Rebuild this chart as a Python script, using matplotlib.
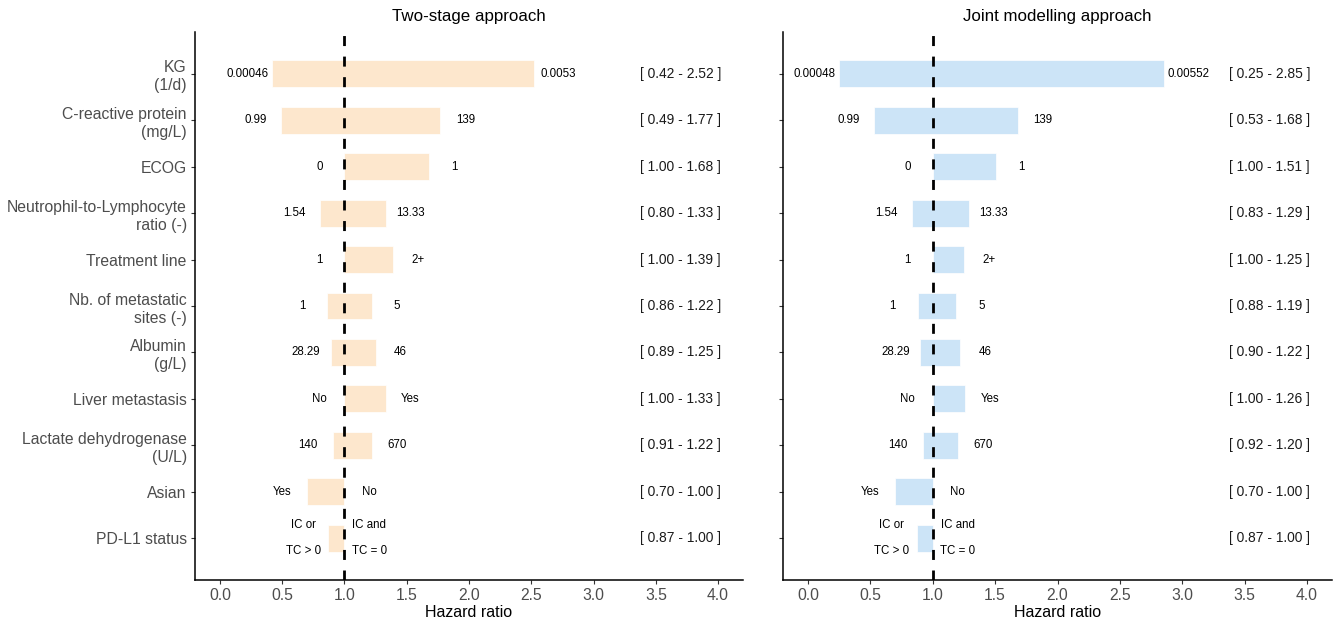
import matplotlib
matplotlib.use('Agg')
import matplotlib.pyplot as plt

plt.rcParams['font.family'] = ['Liberation Sans', 'DejaVu Sans']

# Covariates, top to bottom
covariates = ['KG\n(1/d)', 'C-reactive protein\n(mg/L)', 'ECOG',
              'Neutrophil-to-Lymphocyte\nratio (-)', 'Treatment line',
              'Nb. of metastatic\nsites (-)', 'Albumin\n(g/L)', 'Liver metastasis',
              'Lactate dehydrogenase\n(U/L)', 'Asian', 'PD-L1 status']

# Covariate values at each end of the bar
low_labels_two = ['0.00046', '0.99', '0', '1.54', '1', '1', '28.29', 'No', '140', 'Yes', 'IC or\nTC > 0']
high_labels_two = ['0.0053', '139', '1', '13.33', '2+', '5', '46', 'Yes', '670', 'No', 'IC and\nTC = 0']
low_labels_joint = ['0.00048', '0.99', '0', '1.54', '1', '1', '28.29', 'No', '140', 'Yes', 'IC or\nTC > 0']
high_labels_joint = ['0.00552', '139', '1', '13.33', '2+', '5', '46', 'Yes', '670', 'No', 'IC and\nTC = 0']

# Hazard ratio ranges
hr_low_two = [0.42, 0.49, 1.00, 0.80, 1.00, 0.86, 0.89, 1.00, 0.91, 0.70, 0.87]
hr_high_two = [2.52, 1.77, 1.68, 1.33, 1.39, 1.22, 1.25, 1.33, 1.22, 1.00, 1.00]
hr_low_joint = [0.25, 0.53, 1.00, 0.83, 1.00, 0.88, 0.90, 1.00, 0.92, 0.70, 0.87]
hr_high_joint = [2.85, 1.68, 1.51, 1.29, 1.25, 1.19, 1.22, 1.26, 1.20, 1.00, 1.00]

x_ticks = [0.0, 0.5, 1.0, 1.5, 2.0, 2.5, 3.0, 3.5, 4.0]


def tornado(ax, lows, highs, low_labels, high_labels, color, title, show_labels):
    n = len(lows)
    ypos = [n - i for i in range(n)]
    widths = [h - l for l, h in zip(lows, highs)]
    ax.barh(ypos, widths, left=lows, height=0.58, color=color,
            edgecolor='#ffffff', linewidth=0.5, zorder=1)

    for y, l, h, lt, ht in zip(ypos, lows, highs, low_labels, high_labels):
        ax.text(l - 0.2, y, lt, ha='center', va='center', fontsize=8.3,
                linespacing=2.5, color='black')
        ax.text(h + 0.2, y, ht, ha='center', va='center', fontsize=8.3,
                linespacing=2.5, color='black')
        ax.text(3.7, y, f'[ {l:.2f} - {h:.2f} ]', ha='center', va='center',
                fontsize=9.9, color='#1a1a1a')

    ax.axvline(1.0, color='black', lw=2.0, linestyle=(0, (3.6, 3.8)), zorder=3)

    ax.set_xlim(-0.2, 4.2)
    ax.set_ylim(0.1, n + 0.9)
    ax.set_xticks(x_ticks)
    ax.set_xticklabels([f'{t:.1f}' for t in x_ticks])
    ax.set_yticks(ypos)
    if show_labels:
        ax.set_yticklabels(covariates, linespacing=1.25)
    else:
        ax.set_yticklabels([])

    for side in ['top', 'right']:
        ax.spines[side].set_visible(False)
    for side in ['left', 'bottom']:
        ax.spines[side].set_linewidth(1.1)
        ax.spines[side].set_color('black')

    ax.tick_params(axis='both', length=3, width=0.8, color='#333333',
                   labelcolor='#4D4D4D', labelsize=11.3, pad=3)
    ax.set_xlabel('Hazard ratio', fontsize=11.5, color='black', labelpad=1)
    ax.set_title(title, fontsize=12.2, color='black', pad=8)


fig = plt.figure(figsize=(13.38, 6.25), dpi=100)
ax1 = fig.add_axes([195 / 1338, 1 - 580 / 625, 548 / 1338, 548 / 625])
ax2 = fig.add_axes([783 / 1338, 1 - 580 / 625, 549 / 1338, 548 / 625])

tornado(ax1, hr_low_two, hr_high_two, low_labels_two, high_labels_two,
        '#FDE7CD', 'Two-stage approach', True)
tornado(ax2, hr_low_joint, hr_high_joint, low_labels_joint, high_labels_joint,
        '#CCE4F7', 'Joint modelling approach', False)

fig.savefig('out.png', dpi=100)
plt.close(fig)
